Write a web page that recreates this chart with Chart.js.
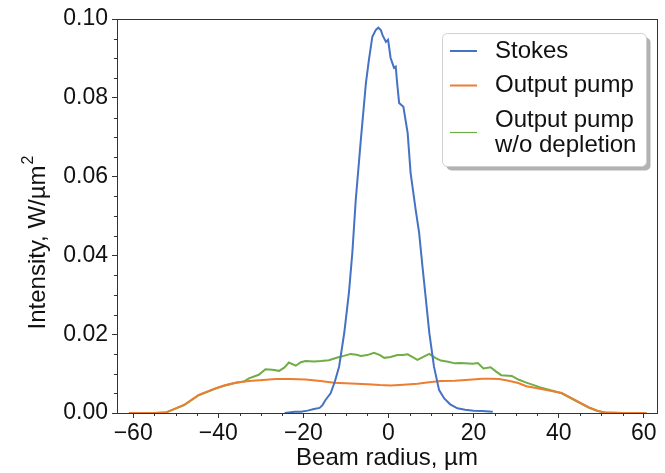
<!DOCTYPE html>
<html>
<head>
<meta charset="utf-8">
<script src="https://cdn.jsdelivr.net/npm/chart.js@4.4.1/dist/chart.umd.min.js"></script>
<style>
  html, body { margin: 0; padding: 0; background: #fff; }
  #wrap { width: 665px; height: 473px; }
</style>
</head>
<body>
<div id="wrap"><canvas id="beamChart" width="665" height="473"></canvas></div>
<script>
// Stokes beam profile (radius in µm, intensity in W/µm^2)
const stokesX = [-24.4, -22, -20.6, -19, -17.5, -16.2, -15.5, -14.8, -13.6, -12.6, -11.6, -10.4, -9.3, -8.5, -7.7, -6.5, -5.3, -4.6, -3.8, -3.0, -2.4, -1.8, -1.4, -0.6, -0.1, 0.5, 1.3, 1.7, 2.1, 2.5, 3.5, 4.5, 5.2, 6.4, 7.2, 8.0, 8.8, 9.6, 10.7, 11.9, 13.1, 14.5, 16.2, 18, 20, 22, 24.5];
const stokesY = [0.0, 0.0003, 0.0003, 0.0006, 0.0010, 0.0013, 0.0020, 0.0033, 0.0050, 0.0080, 0.0118, 0.0203, 0.0305, 0.0406, 0.0540, 0.0693, 0.0838, 0.0896, 0.0955, 0.0972, 0.0978, 0.0972, 0.0959, 0.0942, 0.0947, 0.0901, 0.0876, 0.0879, 0.0830, 0.0787, 0.0777, 0.0711, 0.0609, 0.0515, 0.0457, 0.0370, 0.0287, 0.0203, 0.0117, 0.0058, 0.0037, 0.0022, 0.0012, 0.0008, 0.0006, 0.0005, 0.0003];

// output pump
const pumpX = [-61, -55, -52.4, -50.8, -48, -44.6, -40.6, -38.3, -35.9, -32.8, -29.5, -26.5, -23, -19.5, -16, -12.8, -8.8, -4.9, -2, 0.5, 3.5, 6.8, 9.5, 12.3, 15.6, 19.8, 22, 24, 26, 28.2, 30.5, 32.4, 35, 37.4, 40.7, 44.9, 47, 49.1, 50.8, 55, 60.6];
const pumpY = [0, 0, 0.0001, 0.0008, 0.0021, 0.0046, 0.0063, 0.0071, 0.0077, 0.0081, 0.0084, 0.0086, 0.0086, 0.0085, 0.0081, 0.0077, 0.0075, 0.0073, 0.0071, 0.0070, 0.0072, 0.0074, 0.0078, 0.0081, 0.0082, 0.0085, 0.0087, 0.0087, 0.0086, 0.0082, 0.0076, 0.0068, 0.0063, 0.0058, 0.0051, 0.0027, 0.0015, 0.0006, 0.0001, 0, 0];

// output pump without depletion
const freeX = [-61, -55, -52.4, -50.8, -48, -44.6, -40.6, -38.3, -35.9, -34, -32.8, -30.5, -28.9, -27.3, -25.7, -24.5, -23.4, -21.8, -20.6, -19.5, -17.5, -15.9, -14, -12, -10.5, -8.9, -7.5, -6.5, -5, -3.4, -2, -1, 0.5, 2.1, 3.3, 4.5, 5.8, 6.8, 8.3, 9.6, 11, 12.3, 14, 15.6, 17, 19.8, 21, 22.3, 24, 25.3, 26.5, 29, 30.5, 32.4, 35.7, 40.7, 44.9, 47, 49.1, 51, 55, 60.6];
const freeY = [0, 0, 0.0001, 0.0008, 0.0020, 0.0045, 0.0062, 0.0070, 0.0077, 0.0080, 0.0088, 0.0097, 0.0111, 0.0110, 0.0107, 0.0115, 0.0128, 0.0120, 0.0129, 0.0132, 0.0131, 0.0132, 0.0134, 0.0141, 0.0145, 0.0150, 0.0148, 0.0145, 0.0147, 0.0153, 0.0147, 0.0140, 0.0142, 0.0147, 0.0147, 0.0149, 0.0141, 0.0135, 0.0143, 0.0150, 0.0140, 0.0133, 0.0130, 0.0126, 0.0127, 0.0125, 0.0127, 0.0113, 0.0116, 0.0105, 0.0096, 0.0094, 0.0085, 0.0077, 0.0065, 0.0050, 0.0026, 0.0014, 0.0005, 0.0001, 0, 0];

const seriesLabels = [['Stokes'], ['Output pump'], ['Output pump', 'w/o depletion']];
const xTicks = [-60, -40, -20, 0, 20, 40, 60];
const yTicks = [0, 0.02, 0.04, 0.06, 0.08, 0.10];

const FONT = "'Liberation Sans', Arial, sans-serif";

const toPoints = (xs, ys) => xs.map((x, i) => ({ x: x, y: ys[i] }));

// frame, minor ticks, y title with superscript and a matplotlib-ish legend
const decorations = {
  id: 'decorations',
  afterDraw(chart) {
    const ctx = chart.ctx;
    const a = chart.chartArea;
    const xs = chart.scales.x;
    const ys = chart.scales.y;
    ctx.save();
    ctx.strokeStyle = '#333';
    ctx.lineWidth = 1;
    ctx.strokeRect(Math.round(a.left) + 0.5, Math.round(a.top) + 0.5,
      Math.round(a.right - a.left), Math.round(a.bottom - a.top));

    // minor ticks
    ctx.beginPath();
    for (let v = -60; v <= 60; v += 5) {
      if (v % 20 === 0) continue;
      const px = Math.round(xs.getPixelForValue(v)) + 0.5;
      ctx.moveTo(px, a.bottom);
      ctx.lineTo(px, a.bottom + 3);
    }
    for (let k = 1; k < 20; k++) {
      if (k % 4 === 0) continue;
      const py = Math.round(ys.getPixelForValue(k * 0.005)) + 0.5;
      ctx.moveTo(a.left, py);
      ctx.lineTo(a.left - 3, py);
    }
    ctx.stroke();

    // y axis title
    ctx.save();
    ctx.translate(38, 243);
    ctx.rotate(-Math.PI / 2);
    ctx.fillStyle = '#111';
    ctx.textBaseline = 'middle';
    const main = 'Intensity, W/\u00b5m';
    ctx.font = '24px ' + FONT;
    const wMain = ctx.measureText(main).width;
    ctx.font = '16px ' + FONT;
    const wSup = ctx.measureText('2').width;
    const x0 = -(wMain + wSup) / 2;
    ctx.font = '24px ' + FONT;
    ctx.fillText(main, x0, 0);
    ctx.font = '16px ' + FONT;
    ctx.fillText('2', x0 + wMain + 1, -9);
    ctx.restore();

    // legend box
    const bx = 442.5, by = 33.5, bw = 204, bh = 133, r = 5;
    const rr = (x, y, w, h) => {
      ctx.beginPath();
      ctx.moveTo(x + r, y);
      ctx.arcTo(x + w, y, x + w, y + h, r);
      ctx.arcTo(x + w, y + h, x, y + h, r);
      ctx.arcTo(x, y + h, x, y, r);
      ctx.arcTo(x, y, x + w, y, r);
      ctx.closePath();
    };
    rr(bx + 4, by + 4, bw, bh);
    ctx.fillStyle = 'rgba(0,0,0,0.3)';
    ctx.fill();
    rr(bx, by, bw, bh);
    ctx.fillStyle = '#fff';
    ctx.fill();
    ctx.strokeStyle = '#d0d0d0';
    ctx.stroke();

    ctx.font = '24px ' + FONT;
    ctx.fillStyle = '#111';
    ctx.textBaseline = 'middle';
    let cy = 51;
    chart.data.datasets.forEach((ds) => {
      const lines = ds.label;
      const mid = cy + (lines.length - 1) * 25 / 2;
      ctx.strokeStyle = ds.borderColor;
      ctx.lineWidth = ds.legendWidth;
      ctx.beginPath();
      ctx.moveTo(450, mid);
      ctx.lineTo(477, mid);
      ctx.stroke();
      lines.forEach((t, i) => ctx.fillText(t, 495, cy + i * 25));
      cy += (lines.length - 1) * 25 + 34.5;
    });
    ctx.restore();
  }
};

const ctx = document.getElementById('beamChart').getContext('2d');
new Chart(ctx, {
  type: 'scatter',
  data: {
    datasets: [
      {
        label: seriesLabels[0],
        data: toPoints(stokesX, stokesY),
        borderColor: '#4472c4',
        legendWidth: 2,
      },
      {
        label: seriesLabels[1],
        data: toPoints(pumpX, pumpY),
        borderColor: '#ed7d31',
        legendWidth: 2,
      },
      {
        label: seriesLabels[2],
        data: toPoints(freeX, freeY),
        borderColor: '#70ad47',
        legendWidth: 1.2,
      },
    ].map((d) => Object.assign(d, {
      showLine: true,
      borderWidth: 2,
      pointRadius: 0,
      tension: 0,
      fill: false,
    })),
  },
  options: {
    responsive: false,
    animation: false,
    layout: { padding: { top: 19, right: 8, left: 0, bottom: 0 } },
    plugins: { legend: { display: false }, tooltip: { enabled: false } },
    scales: {
      x: {
        type: 'linear',
        min: -63.8,
        max: 63.1,
        afterBuildTicks: (s) => { s.ticks = xTicks.map((v) => ({ value: v })); },
        afterFit: (s) => { s.height = 60; },
        grid: { drawOnChartArea: false, tickLength: 5, tickColor: '#333' },
        border: { display: false },
        ticks: {
          padding: 2,
          color: '#111',
          font: { family: FONT, size: 23 },
          maxRotation: 0,
          callback: (v) => (v < 0 ? '\u2212' + Math.abs(v) : String(v)),
        },
        title: {
          display: true,
          text: 'Beam radius, \u00b5m',
          color: '#111',
          font: { family: FONT, size: 24 },
          padding: { top: 0, bottom: 0 },
        },
      },
      y: {
        min: 0,
        max: 0.1,
        afterBuildTicks: (s) => { s.ticks = yTicks.map((v) => ({ value: v })); },
        afterFit: (s) => { s.width = 117; },
        grid: { drawOnChartArea: false, tickLength: 5, tickColor: '#333' },
        border: { display: false },
        ticks: {
          padding: 4,
          color: '#111',
          font: { family: FONT, size: 23 },
          callback: (v) => Number(v).toFixed(2),
        },
        title: { display: false },
      },
    },
  },
  plugins: [decorations],
});
</script>
</body>
</html>
